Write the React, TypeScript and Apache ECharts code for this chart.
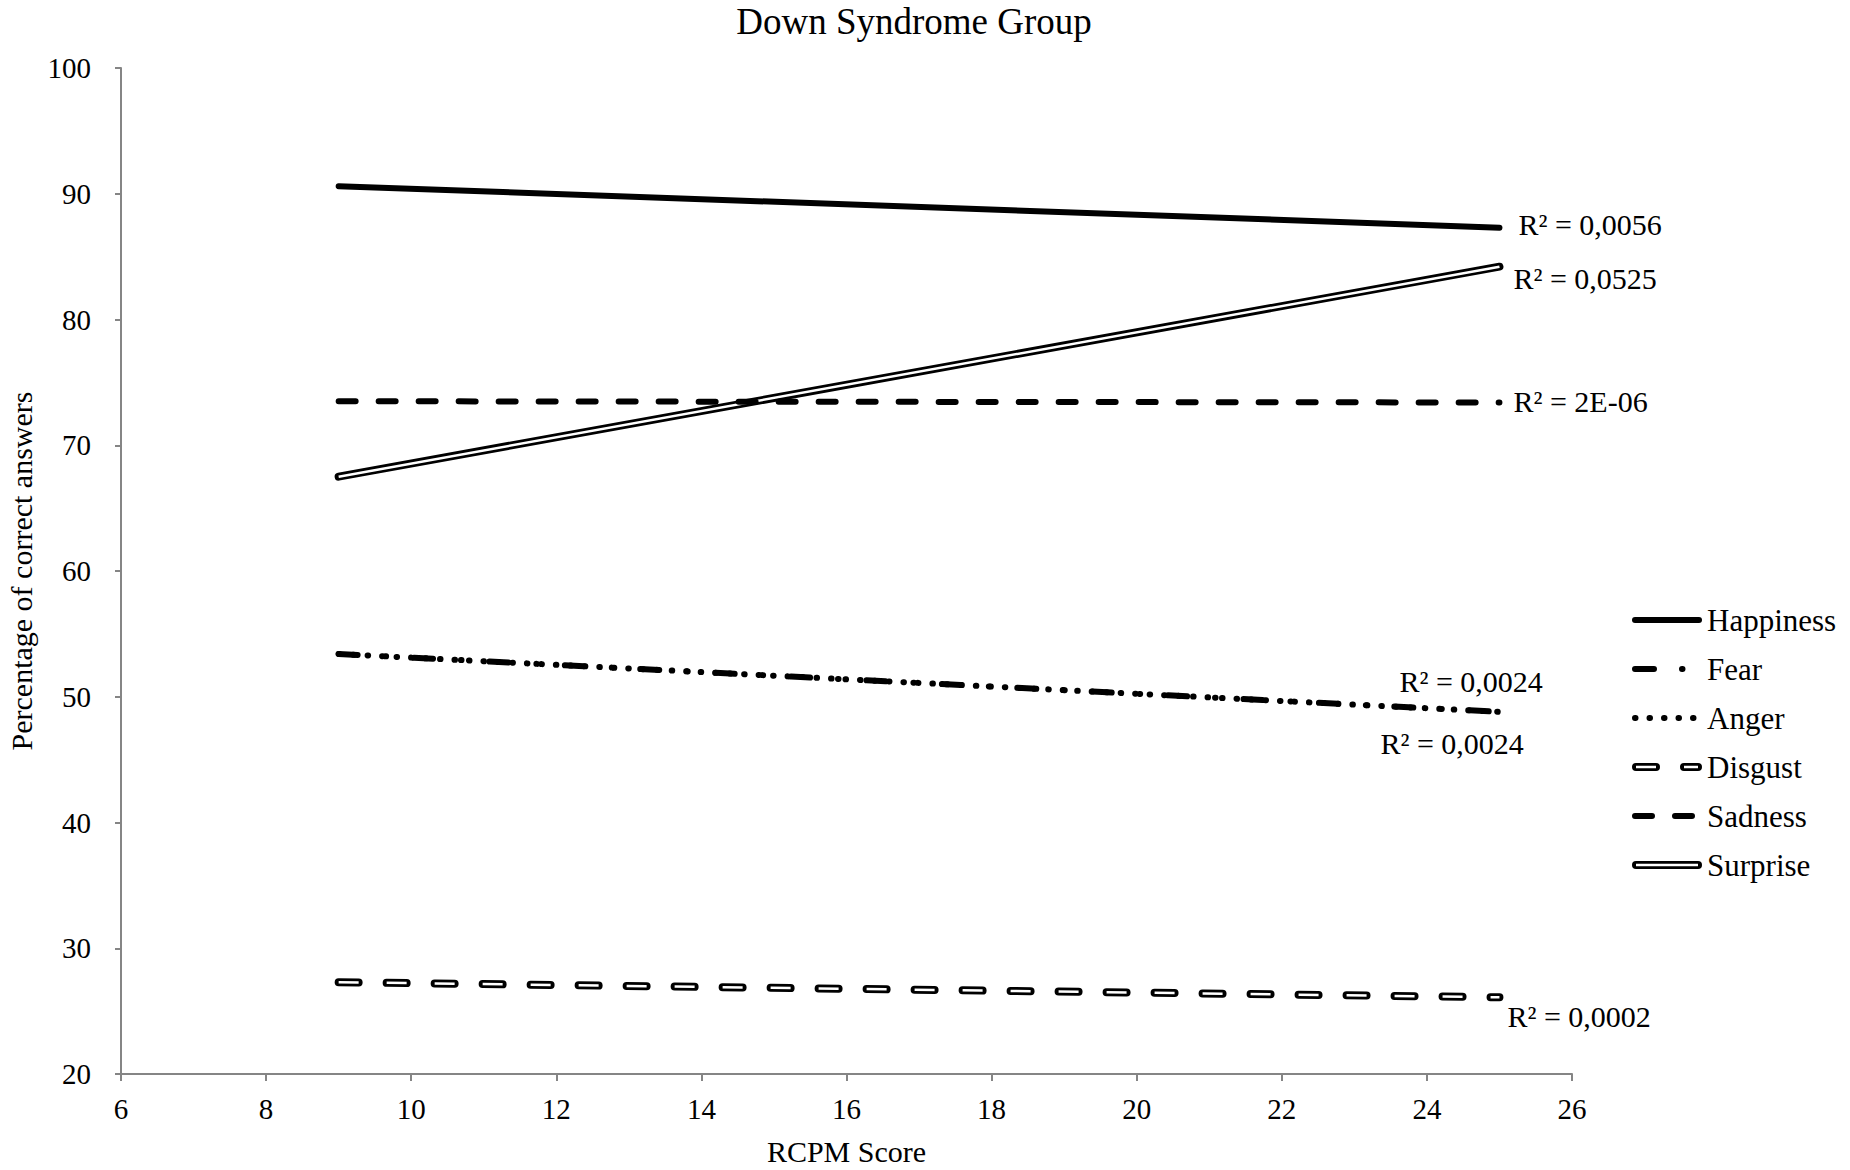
import React, { useEffect, useRef } from "react";
import * as echarts from "echarts";

const FONT = "'Liberation Serif', 'Times New Roman', serif";

// x extent of the fitted trend lines (RCPM score)
const xEnds = [9, 25];

// trend line values (percentage of correct answers) at x = 9 and x = 25
const happiness = [90.6, 87.3];
const fear = [53.4, 48.8];
const anger = [53.4, 48.8];
const disgust = [27.3, 26.1];
const sadness = [73.5, 73.4];
const surprise = [67.5, 84.2];

// R² labels
const r2Happiness = "R² = 0,0056";
const r2Fear = "R² = 0,0024";
const r2Anger = "R² = 0,0024";
const r2Disgust = "R² = 0,0002";
const r2Sadness = "R² = 2E-06";
const r2Surprise = "R² = 0,0525";

const legendNames = ["Happiness", "Fear", "Anger", "Disgust", "Sadness", "Surprise"];

const xTicks = { min: 6, max: 26, interval: 2 };
const yTicks = { min: 20, max: 100, interval: 10 };

const BLACK = "#000";

const styles: Record<string, any[]> = {
  Happiness: [{ width: 6, type: "solid", cap: "round", color: BLACK }],
  Fear: [{ width: 6, type: [19, 28, 0.5, 28], cap: "round", color: BLACK }],
  Anger: [{ width: 6, type: [0.5, 14], cap: "round", color: BLACK }],
  Disgust: [
    { width: 8, type: [20, 28], cap: "round", color: BLACK },
    { width: 2.5, type: [20, 28], cap: "butt", color: "#fff" },
  ],
  Sadness: [{ width: 6, type: [17, 23], cap: "round", color: BLACK }],
  Surprise: [
    { width: 8, type: "solid", cap: "round", color: BLACK },
    { width: 2.5, type: "solid", cap: "butt", color: "#fff" },
  ],
};

function pts(vals: number[]) {
  return xEnds.map((x, i) => [x, vals[i]]);
}

function buildSeries(name: string, vals: number[], label: string, offset: number[], z: number) {
  return styles[name].map((ls, k) => ({
    type: "line",
    name: k === 0 ? name : name + " inner",
    data: pts(vals),
    symbol: "none",
    showSymbol: false,
    silent: true,
    z: z + k,
    lineStyle: { color: ls.color, width: ls.width, type: ls.type, cap: ls.cap, join: "round" },
    endLabel:
      k === 0
        ? {
            show: true,
            formatter: label,
            distance: 0,
            offset,
            align: "left",
            verticalAlign: "middle",
            fontFamily: FONT,
            fontSize: 30,
            color: BLACK,
          }
        : { show: false },
  }));
}

function legendGraphic() {
  const x1 = 1632;
  const x2 = 1702;
  const y0 = 620;
  const dy = 49;
  const els: any[] = [];
  legendNames.forEach((name, i) => {
    const y = y0 + dy * i;
    styles[name].forEach((ls) => {
      const inset = ls.cap === "round" ? ls.width / 2 : 4;
      els.push({
        type: "line",
        silent: true,
        shape: { x1: x1 + inset, y1: y, x2: x2 - inset, y2: y },
        style: {
          stroke: ls.color,
          lineWidth: ls.width,
          lineDash: Array.isArray(ls.type) ? ls.type : null,
          lineCap: ls.cap,
        },
        z: 10,
      });
    });
    els.push({
      type: "text",
      x: 1707,
      y,
      style: {
        text: name,
        fontFamily: FONT,
        fontSize: 31,
        fill: BLACK,
        textAlign: "left",
        textVerticalAlign: "middle",
      },
      z: 10,
    });
  });
  return els;
}

export default function App() {
  const ref = useRef<HTMLDivElement>(null);
  useEffect(() => {
    if (!ref.current) return;
    const chart = echarts.init(ref.current, null, { renderer: "svg" });
    const axisColor = "#858585";
    chart.setOption({
      animation: false,
      backgroundColor: "#fff",
      grid: {
        left: 121,
        right: 278,
        top: 68,
        bottom: 96,
        containLabel: false,
        outerBoundsMode: "none",
      },
      xAxis: {
        type: "value",
        min: xTicks.min,
        max: xTicks.max,
        interval: xTicks.interval,
        name: "RCPM Score",
        nameLocation: "middle",
        nameGap: 62,
        nameTextStyle: { fontFamily: FONT, fontSize: 30, color: BLACK },
        axisLine: { show: true, lineStyle: { color: axisColor, width: 2 } },
        axisTick: { show: true, length: 7, lineStyle: { color: axisColor, width: 2 } },
        axisLabel: { margin: 20, fontFamily: FONT, fontSize: 29, color: BLACK },
        splitLine: { show: false },
      },
      yAxis: {
        type: "value",
        min: yTicks.min,
        max: yTicks.max,
        interval: yTicks.interval,
        name: "Percentage of correct answers",
        nameLocation: "middle",
        nameGap: 70,
        nameTextStyle: { fontFamily: FONT, fontSize: 30, color: BLACK },
        axisLine: { show: true, lineStyle: { color: axisColor, width: 2 } },
        axisTick: { show: true, length: 6, lineStyle: { color: axisColor, width: 2 } },
        axisLabel: { margin: 30, fontFamily: FONT, fontSize: 29, color: BLACK },
        splitLine: { show: false },
      },
      graphic: [
        {
          type: "text",
          x: 914,
          y: 21,
          style: {
            text: "Down Syndrome Group",
            fontFamily: FONT,
            fontSize: 37,
            fill: BLACK,
            textAlign: "center",
            textVerticalAlign: "middle",
          },
        },
        ...legendGraphic(),
      ],
      series: [
        ...buildSeries("Happiness", happiness, r2Happiness, [19, -3], 2),
        ...buildSeries("Surprise", surprise, r2Surprise, [14, 12], 4),
        ...buildSeries("Sadness", sadness, r2Sadness, [14, -1], 6),
        ...buildSeries("Fear", fear, r2Fear, [-100, -30], 8),
        ...buildSeries("Anger", anger, r2Anger, [-119, 32], 10),
        ...buildSeries("Disgust", disgust, r2Disgust, [8, 19], 12),
      ],
    });
    return () => chart.dispose();
  }, []);
  return (
    <div
      ref={ref}
      style={{ position: "fixed", left: 0, top: 0, width: 1850, height: 1170, background: "#fff" }}
    />
  );
}
